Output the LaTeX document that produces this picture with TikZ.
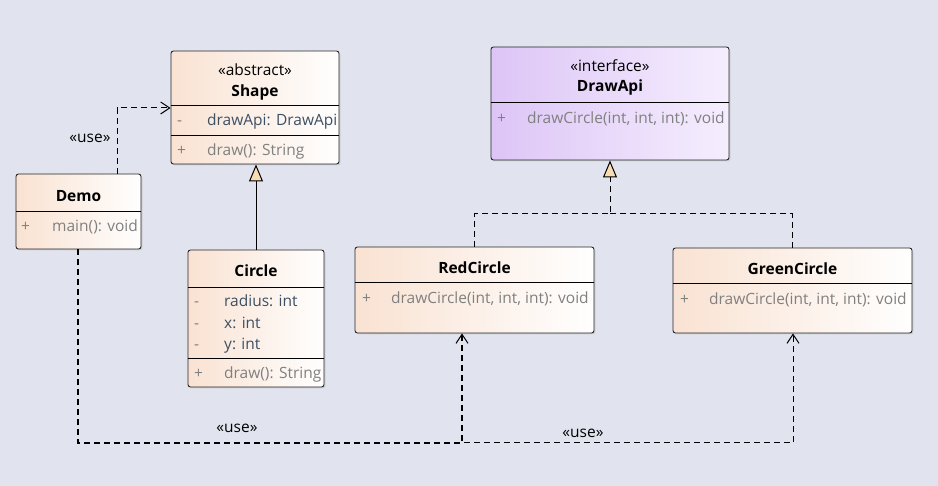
\documentclass[tikz,border=0pt]{standalone}
\usepackage{fontspec}
\setmainfont{Open Sans}
\usetikzlibrary{arrows.meta,shadows}
\definecolor{bg}{RGB}{225,228,238}
\definecolor{peach}{RGB}{249,226,210}
\definecolor{lilacL}{RGB}{221,197,246}
\definecolor{lilacR}{RGB}{245,238,254}
\definecolor{attrc}{RGB}{60,80,100}
\definecolor{opc}{RGB}{128,128,128}
\definecolor{tri}{RGB}{248,220,180}
\newcommand{\fsz}{\fontsize{15.5}{17}\selectfont}
\tikzset{
  umlbox/.style={draw=black!85, line width=0.9pt, rounded corners=2.5pt, left color=peach, right color=white!98!peach, drop shadow={shadow xshift=1.5pt, shadow yshift=-1.5pt, opacity=0.2}, inner sep=0pt},
  ifbox/.style={umlbox, left color=lilacL, right color=lilacR},
  divl/.style={draw=black, line width=0.9pt},
  txt/.style={inner sep=0pt, text height=13pt, text depth=1.5pt},
  hdr/.style={txt, font=\fsz\bfseries},
  stereo/.style={txt, font=\fsz},
  vis/.style={txt, font=\fsz, text=opc, anchor=west},
  attr/.style={txt, font=\fsz, text=attrc, anchor=west},
  oper/.style={txt, font=\fsz, text=opc, anchor=west},
  lbl/.style={txt, font=\fsz},
  usedep/.style={draw=black, line width=1pt, dash pattern=on 6pt off 4pt, -{Straight Barb[length=9pt,width=12pt,line width=1pt]}},
  gen/.style={draw=black, line width=1pt, -{Triangle[length=17pt,width=14pt,fill=tri,line width=1pt]}},
  real/.style={draw=black, line width=1pt, dash pattern=on 6pt off 4pt},
}
\begin{document}
\begin{tikzpicture}[x=1pt,y=-1pt]
\fill[bg] (0,0) rectangle (938,486);
\useasboundingbox (0,0) rectangle (938,486);

% Shape
\node[umlbox, minimum width=168pt, minimum height=113pt] (shape) at (255,107.5) {};
\draw[divl] (shape.west |- 0,105) -- (shape.east |- 0,105);
\draw[divl] (shape.west |- 0,135) -- (shape.east |- 0,135);
\node[stereo] (shapest) at (255,70) {«abstract»};
\node[hdr] (shapet) at (255,91) {Shape};
\node[vis] (shv1) at (177,120) {-};
\node[attr] (sha1) at (207,120) {drawApi: DrawApi};
\node[vis] (shv2) at (177,150) {+};
\node[oper] (sho1) at (207,150) {draw(): String};

% Demo
\node[umlbox, minimum width=125pt, minimum height=75pt] (demo) at (78.5,211.5) {};
\draw[divl] (demo.west |- 0,211) -- (demo.east |- 0,211);
\node[hdr] (demot) at (78.5,196) {Demo};
\node[vis] (dmv1) at (21,226) {+};
\node[oper] (dmo1) at (52,226) {main(): void};

% Circle
\node[umlbox, minimum width=136pt, minimum height=137pt] (circle) at (256,318.5) {};
\draw[divl] (circle.west |- 0,287) -- (circle.east |- 0,287);
\draw[divl] (circle.west |- 0,358) -- (circle.east |- 0,358);
\node[hdr] (circlet) at (256,271) {Circle};
\node[vis] (cv1) at (194,301) {-};
\node[attr] (ca1) at (224,301) {radius: int};
\node[vis] (cv2) at (194,323) {-};
\node[attr] (ca2) at (224,323) {x: int};
\node[vis] (cv3) at (194,344) {-};
\node[attr] (ca3) at (224,344) {y: int};
\node[vis] (cv4) at (194,373) {+};
\node[oper] (co1) at (224,373) {draw(): String};

% DrawApi
\node[ifbox, minimum width=238pt, minimum height=113pt] (drawapi) at (610,103.5) {};
\draw[divl] (drawapi.west |- 0,102) -- (drawapi.east |- 0,102);
\node[stereo] (dast) at (610,66) {«interface»};
\node[hdr] (dat) at (610,86) {DrawApi};
\node[vis] (dav1) at (497,118) {+};
\node[oper] (dao1) at (527,118) {drawCircle(int, int, int): void};

% RedCircle
\node[umlbox, minimum width=239pt, minimum height=86pt] (red) at (474.5,290) {};
\draw[divl] (red.west |- 0,282) -- (red.east |- 0,282);
\node[hdr] (redt) at (474.5,268) {RedCircle};
\node[vis] (rv1) at (362,298) {+};
\node[oper] (ro1) at (391,298) {drawCircle(int, int, int): void};

% GreenCircle
\node[umlbox, minimum width=239pt, minimum height=85pt] (green) at (792.5,290.5) {};
\draw[divl] (green.west |- 0,283) -- (green.east |- 0,283);
\node[hdr] (greent) at (792.5,269) {GreenCircle};
\node[vis] (gv1) at (680,299) {+};
\node[oper] (go1) at (709,299) {drawCircle(int, int, int): void};

% Demo -> Shape
\draw[usedep] (demo.north -| 117,0) |- (shape.west |- 0,108);
\node[lbl] (use1) at (90,137) {«use»};

% Circle -> Shape (generalization)
\draw[gen] (circle.north) -- (circle.north |- shape.south);

% Realizations
\coordinate (junc) at (610,214);
\draw[real] (green.north) |- (junc);
\draw[real, -{Triangle[length=17pt,width=14pt,fill=tri,line width=1pt]}] (red.north) |- (junc) -- (drawapi.south);

% Demo -> GreenCircle and RedCircle
\coordinate (bl) at (78,443);
\draw[usedep] (demo.south -| bl) -- (bl) -| (green.south -| 793,0);
\draw[usedep, line width=1.7pt, -{Straight Barb[length=9pt,width=12pt,line width=1pt]}] (demo.south -| bl) -- (bl) -| (red.south -| 462,0);
\node[lbl] (use2) at (237,427) {«use»};
\node[lbl] (use3) at (583,432) {«use»};
\end{tikzpicture}
\end{document}
